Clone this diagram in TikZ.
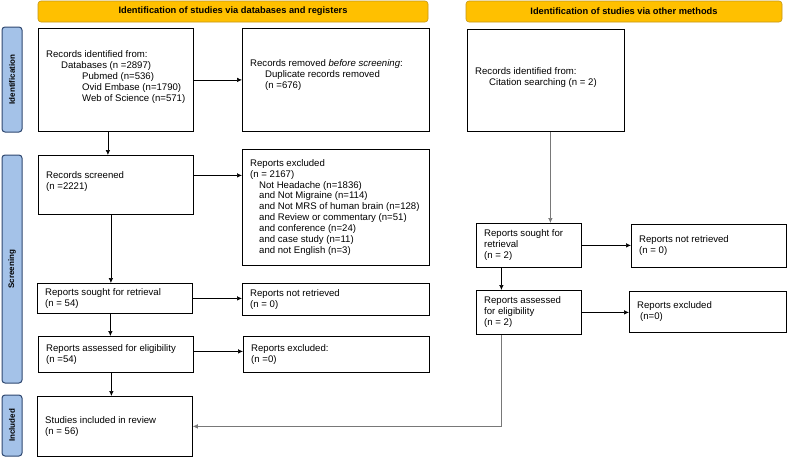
\documentclass[tikz,border=0pt]{standalone}
\usepackage{fontspec}
\setmainfont{Liberation Sans}
\usetikzlibrary{arrows.meta}
\definecolor{cyellow}{RGB}{255, 192, 0}
\definecolor{cdarkyellow}{RGB}{196, 150, 20}
\definecolor{clightblue}{RGB}{164, 194, 232}
\definecolor{cnavy}{RGB}{47, 72, 112}
\definecolor{cgray}{RGB}{120, 120, 120}

\begin{document}
\begin{tikzpicture}[x=1pt,y=-1pt,
    box/.style={draw,line width=0.8pt,anchor=north west,inner sep=0pt},
    boxtext/.style={anchor=west,align=left,inner sep=0pt,font=\fontsize{9.6}{10.9}\selectfont},
    head/.style={draw=cdarkyellow,fill=cyellow,rounded corners=3pt,line width=0.6pt,minimum height=21pt,
        font=\fontsize{9.3}{10}\selectfont\bfseries},
    side/.style={draw=cnavy,fill=clightblue,rounded corners=3pt,line width=1pt,rotate=90,minimum height=20pt,
        inner sep=0pt,font=\fontsize{8}{9}\selectfont\bfseries},
    arr/.style={-{Latex[length=5pt,width=4.5pt]},line width=0.6pt}]

\useasboundingbox (0,0) rectangle (787,458);

% headers
\node[head,minimum width=390pt] (hdb) at (233,11.5) {Identification of studies via databases and registers};
\node[head,minimum width=316pt] (hother) at (624,11.5) {Identification of studies via other methods};

% phases
\foreach \name/\y/\len/\txt in {sident/79.5/105/Identification, sscreen/269/228/Screening, sincl/425.5/61/Included}{
    \node[side,minimum width=\len pt] (\name) at (12,\y) {\txt};
}

% boxes
\foreach \name/\x/\y/\w/\h in {idrec/38/28/155/103, removed/242/28/187/103, screened/38/155/155/59,
    excl/242/149/187/116, sought/37/283/155/30, notret/242/283/187/32, assessed/38/336/155/36,
    excltwo/243/336/186/36, included/37/396/155/60, other/467/29/157/102, osought/476/223/105/44,
    onotret/631/224/155/43, oassessed/476/290/105/44, oexcl/629/291/157/41}{
    \node[box,minimum width=\w pt,minimum height=\h pt] (\name) at (\x,\y) {};
}

% texts
\node[boxtext] (idrec-t) at ([xshift=8pt,yshift=3pt]idrec.west) {Records identified from:\\\hspace*{15pt}Databases (n =2897)\\\hspace*{36pt}Pubmed (n=536)\\\hspace*{36pt}Ovid Embase (n=1790)\\\hspace*{36pt}Web of Science (n=571)};
\node[boxtext] (removed-t) at ([xshift=8pt,yshift=5pt]removed.west) {Records removed \textit{before screening}:\\\hspace*{15pt}Duplicate records removed\\\hspace*{15pt}(n =676)};
\node[boxtext] (screened-t) at ([xshift=8pt,yshift=3pt]screened.west) {Records screened\\(n =2221)};
\node[boxtext] (excl-t) at ([xshift=8pt]excl.west) {Reports excluded\\(n = 2167)\\\hspace*{9pt}Not Headache (n=1836)\\\hspace*{9pt}and Not Migraine (n=114)\\\hspace*{9pt}and Not MRS of human brain (n=128)\\\hspace*{9pt}and Review or commentary (n=51)\\\hspace*{9pt}and conference (n=24)\\\hspace*{9pt}and case study (n=11)\\\hspace*{9pt}and not English (n=3)};
\node[boxtext] (sought-t) at ([xshift=8pt]sought.west) {Reports sought for retrieval\\(n = 54)};
\node[boxtext] (notret-t) at ([xshift=8pt]notret.west) {Reports not retrieved\\(n = 0)};
\node[boxtext] (assessed-t) at ([xshift=8pt]assessed.west) {Reports assessed for eligibility\\(n =54)};
\node[boxtext] (excltwo-t) at ([xshift=8pt]excltwo.west) {Reports excluded:\\(n =0)};
\node[boxtext] (included-t) at ([xshift=8pt]included.west) {Studies included in review\\(n = 56)};
\node[boxtext] (other-t) at ([xshift=8pt,yshift=3pt]other.west) {Records identified from:\\\hspace*{14pt}Citation searching (n = 2)};
\node[boxtext] (osought-t) at ([xshift=8pt]osought.west) {Reports sought for\\retrieval\\(n = 2)};
\node[boxtext] (onotret-t) at ([xshift=8pt]onotret.west) {Reports not retrieved\\(n = 0)};
\node[boxtext] (oassessed-t) at ([xshift=8pt]oassessed.west) {Reports assessed\\for eligibility\\(n = 2)};
\node[boxtext] (oexcl-t) at ([xshift=8pt]oexcl.west) {Reports excluded\\\hspace*{3pt}(n=0)};

% left column
\draw[arr] ([xshift=-8pt]idrec.south) -- ([xshift=-8pt]idrec.south |- screened.north);
\draw[arr] ([xshift=-5pt]screened.south) -- ([xshift=-5pt]screened.south |- sought.north);
\draw[arr] ([xshift=-4.5pt]sought.south) -- ([xshift=-4.5pt]sought.south |- assessed.north);
\draw[arr] ([xshift=-4.5pt]assessed.south) -- ([xshift=-4.5pt]assessed.south |- included.north);
\draw[arr] (idrec.east) -- (idrec.east -| removed.west);
\draw[arr] ([yshift=9.5pt]screened.east) coordinate (c1) -- (c1 -| excl.west);
\draw[arr] (sought.east) -- (sought.east -| notret.west);
\draw[arr] ([yshift=3pt]assessed.east) coordinate (c2) -- (c2 -| excltwo.west);

% right column
\draw[arr,draw=cgray] ([xshift=4.5pt]other.south) -- ([xshift=4.5pt]other.south |- osought.north);
\draw[arr] ([xshift=-27.5pt]osought.south) -- ([xshift=-27.5pt]osought.south |- oassessed.north);
\draw[arr] (osought.east) -- (osought.east -| onotret.west);
\draw[arr] (oassessed.east) -- (oassessed.east -| oexcl.west);
\draw[arr,draw=cgray] ([xshift=-27.5pt]oassessed.south) |- (included.east);

\end{tikzpicture}
\end{document}
